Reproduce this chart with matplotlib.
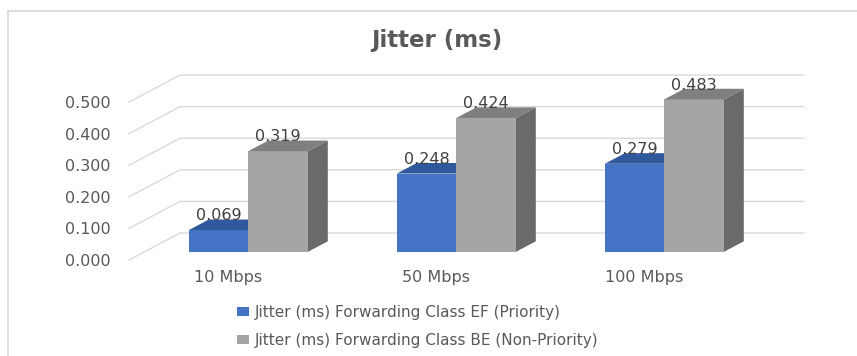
import matplotlib
matplotlib.use("Agg")
import matplotlib.pyplot as plt
from matplotlib.patches import Polygon, Patch
from matplotlib.lines import Line2D
import numpy as np

plt.rcParams["font.family"] = ["DejaVu Sans"]

# ---- data ----
categories = ["10 Mbps", "50 Mbps", "100 Mbps"]
ef_values = [0.069, 0.248, 0.279]
be_values = [0.319, 0.424, 0.483]
series_names = ["Jitter (ms) Forwarding Class EF (Priority)",
                "Jitter (ms) Forwarding Class BE (Non-Priority)"]
yticks = [0.0, 0.1, 0.2, 0.3, 0.4, 0.5]
title = "Jitter (ms)"

# ---- style ----
W, H = 857, 356
fig = plt.figure(figsize=(W / 100, H / 100), dpi=100)
fig.patch.set_facecolor("white")

ax_left, ax_right = 129, 753
ax_bottom_px, ax_top_px = 260, 70.5
ax = fig.add_axes([ax_left / W, (H - ax_bottom_px) / H,
                   (ax_right - ax_left) / W, (ax_bottom_px - ax_top_px) / H])
ax.set_xlim(-0.5, 2.5)
ax.set_ylim(0, 0.6)
ax.set_facecolor("none")
for s in ax.spines.values():
    s.set_visible(False)

px_x = (ax_right - ax_left) / 3.0          # px per category unit
px_y = (ax_bottom_px - ax_top_px) / 0.6    # px per value unit
dx = 51 / px_x                              # full depth offsets in data units
dy = 27 / px_y
d0 = 0.30                                   # depth of bar front plane
bd = 20 / 51                                # bar depth fraction
w = 59.5 / px_x                             # bar width

grid_c = "#D9D9D9"
x0, x1 = ax.get_xlim()
for v in yticks:
    ax.add_line(Line2D([x0, x0 + dx, x1 + dx], [v, v + dy, v + dy],
                       color=grid_c, lw=1.0, clip_on=False, zorder=1))

colors = [
    {"front": "#4472C4", "top": "#30589C", "side": "#2E5290"},
    {"front": "#A5A5A5", "top": "#7F7F7F", "side": "#6A6A6A"},
]

num_fs = 11.5
x = np.arange(len(categories))
base = d0 * dy
for i in range(len(categories)):
    for k, vals in enumerate([ef_values, be_values]):
        c = colors[k]
        left = x[i] + d0 * dx - w + k * w
        val = vals[i]
        top = base + val
        ax.bar(left, val, width=w, bottom=base, align="edge",
               color=c["front"], edgecolor="none", zorder=3 + k, clip_on=False)
        ox, oy = bd * dx, bd * dy
        ax.add_patch(Polygon([(left, top), (left + w, top), (left + w + ox, top + oy),
                              (left + ox, top + oy)], closed=True,
                             facecolor=c["top"], edgecolor="none", zorder=3 + k,
                             clip_on=False))
        ax.add_patch(Polygon([(left + w, base), (left + w + ox, base + oy),
                              (left + w + ox, top + oy), (left + w, top)], closed=True,
                             facecolor=c["side"], edgecolor="none", zorder=2 + k,
                             clip_on=False))
        ax.text(left + w / 2, top + oy - 0.012, f"{val:.3f}", ha="center", va="bottom",
                fontsize=num_fs, color="#404040", zorder=6)

ax.set_yticks(yticks)
ax.set_yticklabels([f"{v:.3f}" for v in yticks])
ax.set_xticks(x - 0.025)
ax.set_xticklabels(categories)
ax.tick_params(axis="y", length=0, pad=13.5, labelsize=num_fs, labelcolor="#595959")
ax.tick_params(axis="x", length=0, pad=7.5, labelsize=num_fs, labelcolor="#595959")

fig.text(437 / W, 1 - 40 / H, title, ha="center", va="center",
         fontsize=16.5, fontweight="bold", color="#595959")

handles = [Patch(facecolor=colors[0]["front"]), Patch(facecolor=colors[1]["front"])]
fig.legend(handles, series_names, loc="upper left",
           bbox_to_anchor=(237 / W, 1 - 305 / H), frameon=False,
           fontsize=11, labelcolor="#595959", handlelength=0.8,
           handleheight=0.45, handletextpad=0.35, labelspacing=0.85,
           borderpad=0, borderaxespad=0)

# chart frame (left and top edges visible)
fig.add_artist(Line2D([8 / W, 8 / W], [0, 1 - 11 / H], transform=fig.transFigure,
                      color="#D9D9D9", lw=1.2))
fig.add_artist(Line2D([8 / W, 1], [1 - 11 / H, 1 - 11 / H], transform=fig.transFigure,
                      color="#D9D9D9", lw=1.2))

fig.savefig("out.png", dpi=100, facecolor="white")
